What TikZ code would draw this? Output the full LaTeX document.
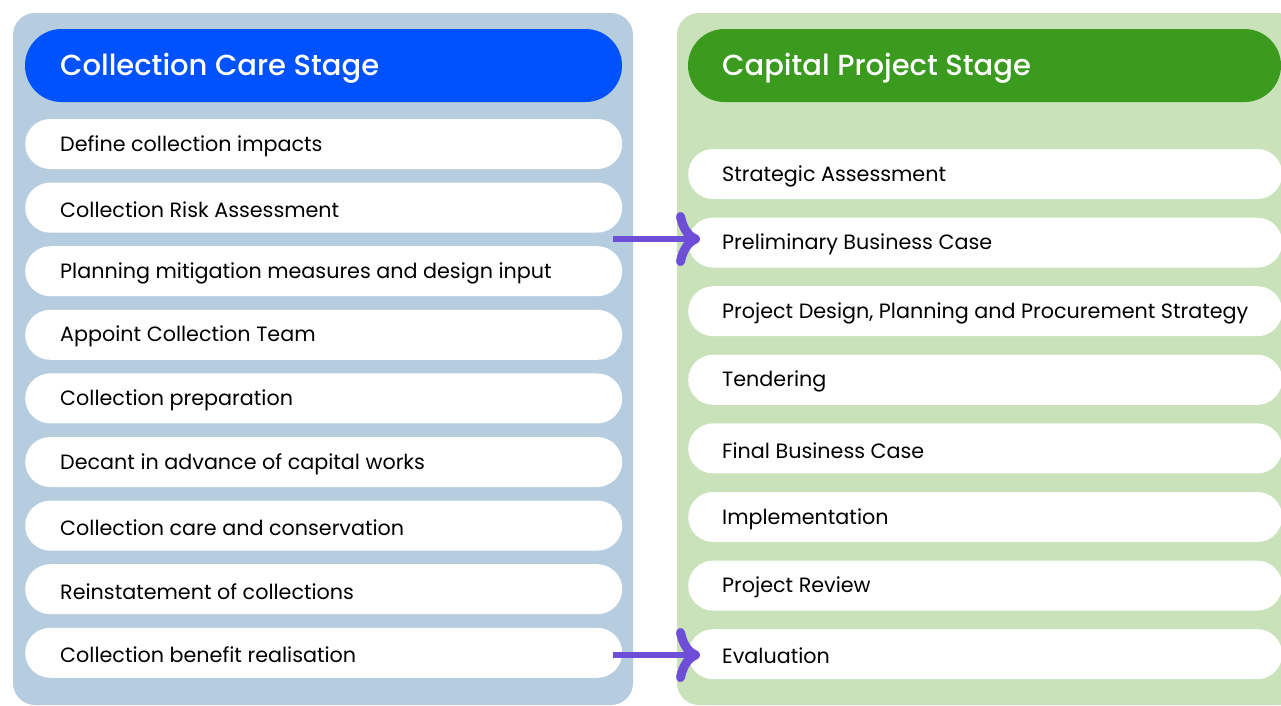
\documentclass[tikz,border=0pt]{standalone}
\usepackage{fontspec}
\setmainfont{Poppins}
\IfFontExistsTF{Poppins Medium}{\newfontfamily\headfont{Poppins Medium}}{\newfontfamily\headfont{Poppins}}
\usepackage{xcolor}
\usepackage{tikz}
\usetikzlibrary{arrows.meta}

\definecolor{careback}{RGB}{182,205,224}
\definecolor{carehead}{RGB}{0,82,255}
\definecolor{projback}{RGB}{201,226,185}
\definecolor{projhead}{RGB}{58,155,30}
\definecolor{flowcol}{RGB}{110,78,214}

\tikzset{
  pill/.style={fill=white, rounded corners=25pt, minimum height=50pt, anchor=west, inner sep=0pt},
  carepill/.style={pill, minimum width=597pt},
  projpill/.style={pill, minimum width=594pt},
  pilltext/.style={anchor=west, inner sep=0pt, yshift=-2pt, font=\fontsize{20.7}{24}\selectfont},
  headtext/.style={anchor=west, inner sep=0pt, yshift=-2.5pt, text=white, font=\fontsize{29}{33}\headfont},
  flow/.style={draw=flowcol, line width=6pt, -{To[length=24pt,width=54pt,line width=0pt 1.5]}}
}

\begin{document}
\begin{tikzpicture}[x=1pt,y=-1pt]
\useasboundingbox (0,0) rectangle (1281,705);
\fill[careback, rounded corners=22pt] (13,13) rectangle (633,705);
\fill[projback, rounded corners=22pt] (677,13) rectangle (1300,705);
\fill[carehead, rounded corners=36.5pt] (25,29) rectangle (622,102);
\fill[projhead, rounded corners=36.5pt] (688,29) rectangle (1281,102);
\node[headtext] (carehd) at (60,65.5) {Collection Care Stage};
\node[headtext] (projhd) at (722,65.5) {Capital Project Stage};

\foreach \t [count=\i, evaluate=\i as \yy using 144+63.6*(\i-1)] in
  {Define collection impacts, Collection Risk Assessment,
   Planning mitigation measures and design input, Appoint Collection Team,
   Collection preparation, Decant in advance of capital works,
   Collection care and conservation, Reinstatement of collections,
   Collection benefit realisation}
{
  \node[carepill] (l\i) at (25,\yy) {};
  \node[pilltext] (lt\i) at ([xshift=35pt]l\i.west) {\t};
}

\foreach \t [count=\i, evaluate=\i as \yy using 174+68.6*(\i-1)] in
  {Strategic Assessment, Preliminary Business Case,
   {Project Design, Planning and Procurement Strategy}, Tendering,
   Final Business Case, Implementation, Project Review, Evaluation}
{
  \node[projpill] (r\i) at (688,\yy) {};
  \node[pilltext] (rt\i) at ([xshift=34pt]r\i.west) {\t};
}

\coordinate (a1) at (613,239);
\coordinate (a2) at (613,655);
\draw[flow] (a1) -- ([xshift=12pt]a1 -| r2.west);
\draw[flow] (a2) -- ([xshift=12pt]a2 -| r8.west);
\end{tikzpicture}
\end{document}
